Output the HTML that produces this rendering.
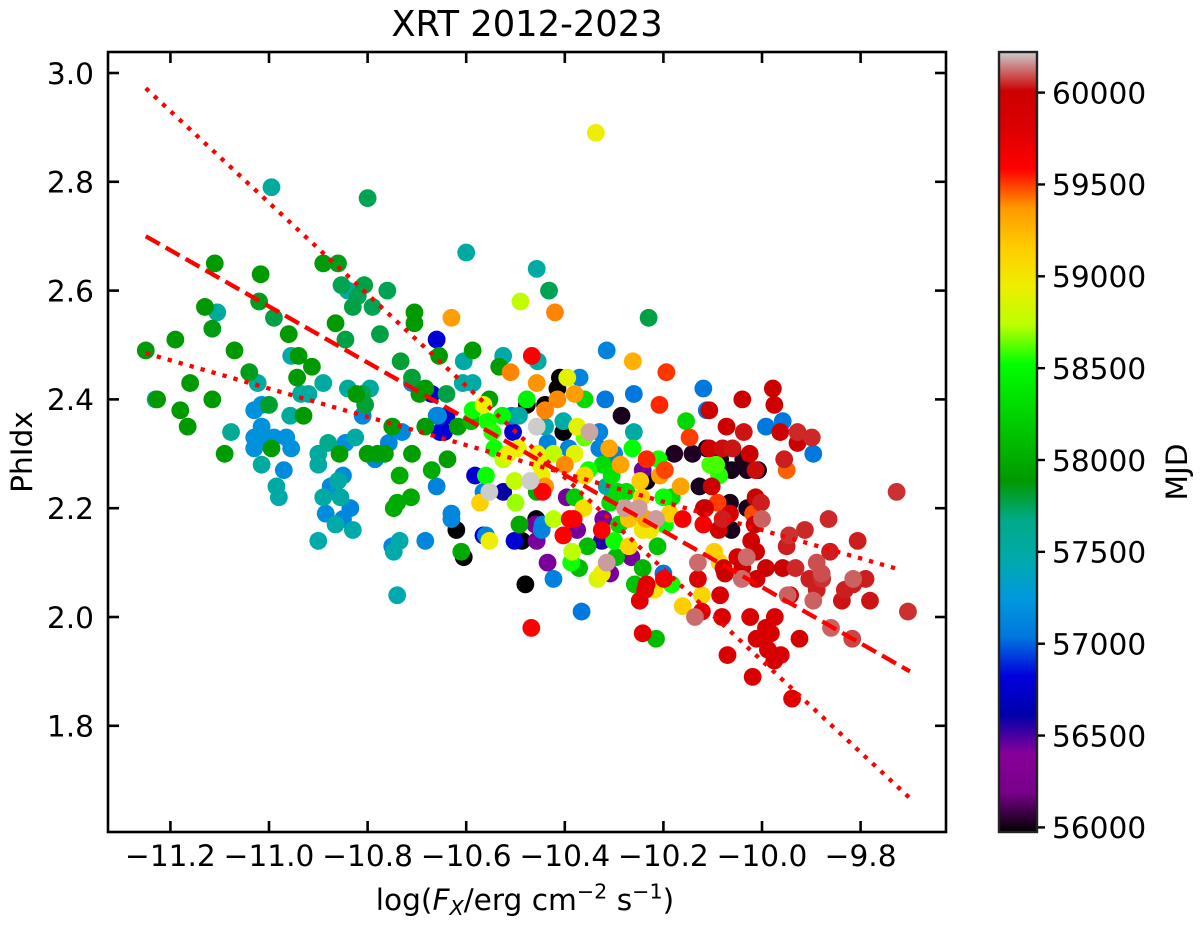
<!DOCTYPE html>
<html lang="en">
<head>
<meta charset="utf-8">
<title>XRT 2012-2023</title>
<style>
html,body{margin:0;padding:0;background:#fff;}
svg{display:block;font-family:"DejaVu Sans","Liberation Sans",sans-serif;fill:#000;}
</style>
</head>
<body>
<svg id="chart" xmlns="http://www.w3.org/2000/svg" width="1200" height="927" viewBox="0 0 1200 927">
  <defs>
    <linearGradient id="cbar-gradient" x1="0" y1="1" x2="0" y2="0"></linearGradient>
    <clipPath id="plot-clip"><rect x="108" y="52" width="838" height="780"></rect></clipPath>
  </defs>
  <rect x="108" y="52" width="838" height="780" fill="#fff"></rect>
  <g id="points" clip-path="url(#plot-clip)"></g>
  <g id="fits" clip-path="url(#plot-clip)"></g>
  <g id="ticks"></g>
  <rect x="108" y="52" width="838" height="780" fill="none" stroke="#000" stroke-width="2.6"></rect>
  <text x="527" y="36" font-size="35.3" text-anchor="middle">XRT 2012-2023</text>
  <text x="525" y="910" font-size="29.6" text-anchor="middle">log(<tspan font-style="italic">F</tspan><tspan font-style="italic" font-size="20.7" dy="5">X</tspan><tspan dy="-5">/erg cm</tspan><tspan font-size="20.7" dy="-11.5">−2</tspan><tspan dy="11.5"> s</tspan><tspan font-size="20.7" dy="-11.5">−1</tspan><tspan dy="11.5">)</tspan></text>
  <text transform="translate(32 452) rotate(-90)" font-size="29.6" text-anchor="middle">PhIdx</text>
  <rect id="cbar" x="999" y="52" width="38" height="780" fill="url(#cbar-gradient)"></rect>
  <g id="cbar-ticks"></g>
  <rect x="999" y="52" width="38" height="780" fill="none" stroke="#222" stroke-width="2.4"></rect>
  <text transform="translate(1187 472) rotate(-90)" font-size="29.6" text-anchor="middle">MJD</text>
</svg>
<script>
const flux = [
-10.995,-10.80,-11.11,-11.017,-10.89,-10.86,-10.853,-10.84,-10.807,-10.82,
-10.83,-10.79,-10.76,-10.705,-10.705,-10.775,-10.865,-10.845,-11.02,-10.99,
-10.96,-11.13,-11.105,-11.115,-11.19,-11.25,-11.07,-10.955,-10.94,-10.913,
-10.943,-11.04,-11.023,-11.16,-10.89,-10.935,-10.92,-10.84,-10.795,-10.81,
-10.823,-10.805,-10.733,-10.71,-10.71,-10.683,-10.695,-10.67,-10.66,-10.655,
-11.23,-11.227,-11.115,-11.18,-11.165,-11.077,-11.03,-11.015,-11.0,-10.957,
-10.93,-10.81,-10.75,-10.73,-10.683,-10.657,-10.653,-11.015,-11.03,-11.015,
-10.99,-10.965,-11.03,-10.955,-10.995,-11.015,-10.97,-10.985,-10.98,-11.09,
-10.9,-10.9,-10.88,-10.845,-10.825,-10.857,-10.757,-10.8,-10.785,-10.78,
-10.765,-10.71,-10.67,-10.735,-10.66,-10.85,-10.86,-10.875,-10.89,-10.855,
-10.835,-10.885,-10.85,-10.865,-10.83,-10.9,-10.712,-10.74,-10.747,-10.735,
-10.75,-10.747,-10.683,-10.74,-10.49,-10.63,-10.42,-10.587,-10.605,-10.525,
-10.455,-10.467,-10.533,-10.51,-10.457,-10.41,-10.395,-10.415,-10.607,-10.587,
-10.553,-10.565,-10.477,-10.477,-10.64,-10.415,-10.44,-10.44,-10.66,-10.64,
-10.587,-10.527,-10.493,-10.508,-10.557,-10.59,-10.617,-10.645,-10.547,-10.505,
-10.457,-10.44,-10.403,-10.403,-10.435,-10.423,-10.392,-10.543,-10.495,-10.515,
-10.525,-10.456,-10.638,-10.4,-10.45,-10.582,-10.56,-10.502,-10.47,-10.565,
-10.553,-10.525,-10.572,-10.5,-10.445,-10.457,-10.44,-10.447,-10.63,-10.63,
-10.62,-10.61,-10.605,-10.565,-10.56,-10.553,-10.502,-10.487,-10.492,-10.458,
-10.46,-10.445,-10.447,-10.457,-10.423,-10.435,-10.423,-10.48,-10.468,-10.403,
-10.39,-10.385,-10.387,-10.337,-10.6,-10.457,-10.432,-10.23,-10.315,-10.262,
-10.194,-10.119,-10.26,-10.318,-10.208,-10.285,-10.154,-10.147,-10.112,-10.107,
-10.37,-10.31,-10.38,-10.36,-10.375,-10.33,-10.35,-10.36,-10.26,-10.263,
-10.31,-10.3,-10.33,-10.38,-10.234,-10.21,-10.178,-10.141,-10.112,-10.107,
-10.287,-10.323,-10.352,-10.242,-10.197,-10.105,-10.207,-10.247,-10.234,-10.165,
-10.127,-10.36,-10.305,-10.315,-10.293,-10.275,-10.244,-10.2,-10.183,-10.38,
-10.396,-10.362,-10.382,-10.375,-10.322,-10.325,-10.325,-10.3,-10.27,-10.29,
-10.242,-10.227,-10.235,-10.215,-10.197,-10.187,-10.161,-10.119,-10.118,-10.25,
-10.278,-10.308,-10.212,-10.27,-10.265,-10.354,-10.371,-10.296,-10.315,-10.325,
-10.308,-10.334,-10.242,-10.2,-10.199,-10.183,-10.258,-10.234,-10.237,-10.218,
-10.248,-10.366,-10.242,-10.215,-10.13,-10.13,-10.122,-10.161,-10.122,-10.136,
-9.978,-10.04,-9.975,-10.072,-10.037,-9.992,-9.958,-9.963,-9.928,-9.928,
-9.899,-9.896,-9.955,-9.95,-10.06,-10.08,-10.025,-10.085,-10.038,-10.062,
-10.03,-10.008,-10.013,-10.093,-10.087,-10.102,-10.013,-10.002,-10.065,-10.03,
-10.062,-10.09,-10.115,-10.065,-10.08,-10.088,-10.0,-10.015,-10.018,-9.865,
-9.913,-9.945,-9.95,-9.806,-9.727,-9.862,-9.889,-10.022,-10.012,-10.05,
-10.031,-10.097,-10.086,-10.078,-10.075,-10.04,-10.041,-10.011,-9.992,-9.958,
-9.932,-9.879,-9.878,-9.904,-9.889,-9.896,-9.948,-9.943,-9.832,-9.79,
-9.815,-9.815,-9.838,-9.781,-9.704,-9.86,-9.817,-9.924,-9.974,-10.024,
-10.081,-10.085,-9.992,-9.982,-10.011,-9.998,-9.988,-9.962,-9.975,-10.07,
-10.019,-9.939
];
const phIdx = [
2.79,2.77,2.65,2.63,2.65,2.65,2.61,2.60,2.61,2.59,
2.57,2.57,2.60,2.56,2.54,2.52,2.54,2.51,2.58,2.55,
2.52,2.57,2.56,2.53,2.51,2.49,2.49,2.48,2.48,2.46,
2.44,2.45,2.43,2.43,2.43,2.41,2.41,2.42,2.42,2.41,
2.41,2.39,2.47,2.44,2.43,2.42,2.41,2.41,2.51,2.48,
2.40,2.40,2.40,2.38,2.35,2.34,2.38,2.39,2.39,2.37,
2.37,2.37,2.35,2.34,2.35,2.37,2.34,2.35,2.33,2.33,
2.33,2.33,2.31,2.31,2.31,2.28,2.27,2.24,2.22,2.30,
2.30,2.28,2.32,2.32,2.33,2.30,2.32,2.30,2.29,2.30,
2.30,2.30,2.27,2.26,2.24,2.26,2.25,2.24,2.22,2.22,
2.20,2.19,2.18,2.17,2.16,2.14,2.22,2.21,2.20,2.14,
2.13,2.12,2.14,2.04,2.58,2.55,2.56,2.49,2.47,2.48,
2.47,2.48,2.46,2.45,2.43,2.44,2.44,2.42,2.43,2.43,
2.40,2.39,2.40,2.39,2.41,2.40,2.39,2.38,2.37,2.37,
2.38,2.37,2.37,2.37,2.36,2.36,2.35,2.34,2.34,2.34,
2.35,2.35,2.36,2.34,2.32,2.30,2.31,2.31,2.31,2.30,
2.29,2.30,2.29,2.28,2.28,2.26,2.26,2.25,2.25,2.23,
2.23,2.23,2.21,2.21,2.23,2.23,2.24,2.26,2.19,2.18,
2.16,2.12,2.11,2.15,2.15,2.14,2.14,2.14,2.17,2.18,
2.17,2.17,2.16,2.14,2.18,2.10,2.07,2.06,1.98,2.15,
2.18,2.12,2.10,2.89,2.67,2.64,2.60,2.55,2.49,2.47,
2.45,2.42,2.41,2.40,2.39,2.37,2.36,2.33,2.38,2.38,
2.44,2.29,2.41,2.40,2.35,2.34,2.34,2.33,2.34,2.31,
2.31,2.30,2.31,2.30,2.29,2.29,2.30,2.30,2.31,2.31,
2.28,2.28,2.27,2.27,2.27,2.28,2.26,2.25,2.25,2.24,
2.24,2.26,2.26,2.24,2.23,2.23,2.22,2.22,2.22,2.22,
2.22,2.20,2.18,2.16,2.18,2.16,2.14,2.14,2.18,2.17,
2.16,2.16,2.18,2.18,2.17,2.19,2.18,2.17,2.20,2.20,
2.20,2.21,2.13,2.13,2.11,2.13,2.09,2.11,2.10,2.08,
2.08,2.07,2.09,2.08,2.07,2.06,2.06,2.06,2.05,2.05,
2.03,2.01,1.97,1.96,2.10,2.07,2.04,2.02,2.01,2.00,
2.42,2.40,2.39,2.35,2.34,2.35,2.36,2.34,2.34,2.32,
2.33,2.30,2.29,2.27,2.31,2.31,2.30,2.29,2.29,2.27,
2.27,2.27,2.27,2.28,2.26,2.24,2.22,2.21,2.21,2.20,
2.16,2.21,2.20,2.19,2.18,2.16,2.18,2.17,2.19,2.18,
2.16,2.15,2.13,2.14,2.23,2.12,2.10,2.14,2.12,2.11,
2.11,2.12,2.10,2.09,2.08,2.09,2.07,2.07,2.09,2.09,
2.09,2.08,2.07,2.07,2.05,2.03,2.04,2.04,2.05,2.07,
2.07,2.06,2.03,2.03,2.01,1.98,1.96,1.96,2.00,2.00,
2.00,2.04,1.98,1.97,1.96,1.96,1.94,1.93,1.92,1.93,
1.89,1.85
];
const mjd = [
57545,57760,57890,57890,57870,57840,57760,57600,57780,57760,
57780,57760,57760,57890,57890,57780,57890,57780,57840,57780,
57890,57880,57550,57860,57890,57870,57890,57500,57890,57890,
57890,57840,57550,57890,57530,57530,57530,57530,57530,57760,
57890,57800,57800,57800,57130,57890,57890,56780,56780,57890,
57500,57890,57890,57890,57890,57600,57200,57200,57820,57530,
57890,57130,57900,57150,57900,57130,56790,57200,57200,57200,
57200,57200,57200,57200,57900,57530,57170,57500,57470,57900,
57530,57500,57640,57180,57500,57920,57130,57920,57130,57920,
57920,57920,58000,58000,57110,57170,57500,57150,57500,57500,
57130,57170,57130,57470,57470,57470,57980,58000,58000,57470,
57130,57470,57130,57450,58760,59350,59400,57900,57500,57470,
57500,59590,57900,59400,59380,55975,58900,55975,57500,57500,
57920,58950,58450,55975,57780,59390,55975,59400,57130,56780,
58530,58500,57480,57120,58540,58100,57920,56780,58560,56780,
60221,57470,57480,55975,57110,58760,57110,58540,58950,58950,
58760,58950,57920,59390,58950,56780,58530,58760,60221,57130,
60221,56600,59130,58700,59590,58000,59380,58950,57130,57130,
55975,57980,55975,56780,57130,58950,56780,55975,57980,55975,
56420,57120,57120,56420,58740,56420,57100,55975,59590,59590,
59590,58740,58540,58950,57530,57500,57760,57780,57110,59280,
59510,57040,57040,57040,59530,56020,58280,59500,57040,60000,
57120,57130,59350,58300,58900,57110,60180,58640,57500,58520,
59320,57130,57110,58900,59530,58540,56030,56030,56020,60000,
59330,58300,58540,56440,59490,58600,59350,59170,55990,59330,
56020,59100,58350,57500,58300,58300,59150,58530,58280,58200,
56430,59050,59600,56430,56430,59600,56560,58530,59200,58250,
59000,59000,59330,60170,58500,59150,59610,59620,60000,60170,
60170,58300,58150,59100,56430,58100,58100,58100,60170,58950,
56430,58850,58050,57040,59650,58540,58150,59750,59750,59000,
59750,57040,59750,58100,60120,59800,59100,59150,59800,60120,
60000,60000,60000,60000,60030,57040,57040,60000,60050,60000,
60050,57040,60040,59450,60030,60020,60000,56020,56020,56020,
56020,56010,60020,58600,58560,60000,60010,60040,56020,56020,
56020,59500,59810,59900,60040,59950,60110,60010,59480,60050,
60050,60060,60040,60040,60060,60040,60090,59980,60000,59900,
60120,59150,59100,59950,59990,59950,60120,59950,60010,60010,
60050,60090,60060,60040,60040,60110,60110,60010,60040,60040,
60110,60040,60030,60030,60060,60110,60080,59900,59860,59860,
59830,59860,59880,59880,59880,59880,59860,59860,59880,59820,
59820,59770
];
const xTicks = [-11.2,-11.0,-10.8,-10.6,-10.4,-10.2,-10.0,-9.8];
const yTicks = [1.8,2.0,2.2,2.4,2.6,2.8,3.0];
const cbarTicks = [56000,56500,57000,57500,58000,58500,59000,59500,60000];
const fitX = [-11.25,-9.7];
const fitY = [2.70,1.90];
const upperX = [-11.25,-9.7];
const upperY = [2.972,1.667];
const lowerX = [-11.25,-9.72];
const lowerY = [2.485,2.087];
const cmapStops = [0,.05,.1,.15,.2,.25,.3,.35,.4,.45,.5,.55,.6,.65,.7,.75,.8,.85,.9,.95,1];
const cmapR = [0,.4667,.5333,0,0,0,0,0,0,0,0,0,0,.7333,.9333,1,1,1,.8667,.8,.8];
const cmapG = [0,0,0,0,0,.4667,.6,.6667,.6667,.6,.7333,.8667,1,1,.9333,.8,.6,0,0,0,.8];
const cmapB = [0,.5333,.6,.6667,.8667,.8667,.8667,.6667,.5333,0,0,0,0,0,0,0,0,0,0,0,.8];

const NS = 'http://www.w3.org/2000/svg';
const xMin = -11.3266, xMax = -9.6268, yMin = 1.6048, yMax = 3.0386, cMin = 55975, cMax = 60221;
const sx = v => 108 + (v - xMin) / (xMax - xMin) * 838;
const sy = v => 832 - (v - yMin) / (yMax - yMin) * 780;
const sc = v => 832 - (v - cMin) / (cMax - cMin) * 780;
function cmap(t) {
  t = Math.max(0, Math.min(1, t));
  let i = 0;
  while (i < cmapStops.length - 2 && t > cmapStops[i + 1]) i++;
  const f = (t - cmapStops[i]) / (cmapStops[i + 1] - cmapStops[i]);
  const c = a => Math.round(255 * (a[i] + (a[i + 1] - a[i]) * f));
  return 'rgb(' + c(cmapR) + ',' + c(cmapG) + ',' + c(cmapB) + ')';
}
function mk(parent, tag, attrs) {
  const el = document.createElementNS(NS, tag);
  for (const k in attrs) el.setAttribute(k, attrs[k]);
  parent.appendChild(el);
  return el;
}
const fmt = (v, d) => v.toFixed(d).replace('-', '\u2212');

const gradient = document.getElementById('cbar-gradient');
cmapStops.forEach(t => {
  mk(gradient, 'stop', {offset: t, 'stop-color': cmap(t)});
});

const pointsGroup = document.getElementById('points');
const order = mjd.map((_, i) => i).sort((a, b) => mjd[a] - mjd[b]);
order.forEach(i => {
  const el = mk(pointsGroup, 'circle', {cx: sx(flux[i]), cy: sy(phIdx[i]), r: 8.9, fill: cmap((mjd[i] - cMin) / (cMax - cMin))});
  
  
});

const fits = document.getElementById('fits');
const fitLine = mk(fits, 'line', {x1: sx(fitX[0]), y1: sy(fitY[0]), x2: sx(fitX[1]), y2: sy(fitY[1]), stroke: '#f00', 'stroke-width': 4.3, 'stroke-dasharray': '16 6.9'});


const upperLine = mk(fits, 'line', {x1: sx(upperX[0]), y1: sy(upperY[0]), x2: sx(upperX[1]), y2: sy(upperY[1]), stroke: '#f00', 'stroke-width': 4.3, 'stroke-dasharray': '4.3 7.1'});


const lowerLine = mk(fits, 'line', {x1: sx(lowerX[0]), y1: sy(lowerY[0]), x2: sx(lowerX[1]), y2: sy(lowerY[1]), stroke: '#f00', 'stroke-width': 4.3, 'stroke-dasharray': '4.3 7.1'});



const ticks = document.getElementById('ticks');
xTicks.forEach(v => {
  const x = sx(v);
  const bottom = mk(ticks, 'line', {x1: x, x2: x, y1: 832, y2: 821, stroke: '#000', 'stroke-width': 2.6});
  
  
  const top = mk(ticks, 'line', {x1: x, x2: x, y1: 52, y2: 63, stroke: '#000', 'stroke-width': 2.6});
  
  
  const label = mk(ticks, 'text', {x: x, y: 866, 'font-size': 29.6, 'text-anchor': 'middle'});
  label.textContent = fmt(v, 1);
  
  
});
yTicks.forEach(v => {
  const y = sy(v);
  const left = mk(ticks, 'line', {x1: 108, x2: 119, y1: y, y2: y, stroke: '#000', 'stroke-width': 2.6});
  
  
  const right = mk(ticks, 'line', {x1: 946, x2: 935, y1: y, y2: y, stroke: '#000', 'stroke-width': 2.6});
  
  
  const label = mk(ticks, 'text', {x: 94, y: y + 10.8, 'font-size': 29.6, 'text-anchor': 'end'});
  label.textContent = fmt(v, 1);
  
  
});

const cbarGroup = document.getElementById('cbar-ticks');
cbarTicks.forEach(v => {
  const y = sc(v);
  const tick = mk(cbarGroup, 'line', {x1: 1037, x2: 1045, y1: y, y2: y, stroke: '#000', 'stroke-width': 2.4});
  
  
  const label = mk(cbarGroup, 'text', {x: 1052, y: y + 10.8, 'font-size': 29.6});
  label.textContent = String(v);
  
  
});
</script>
</body>
</html>
